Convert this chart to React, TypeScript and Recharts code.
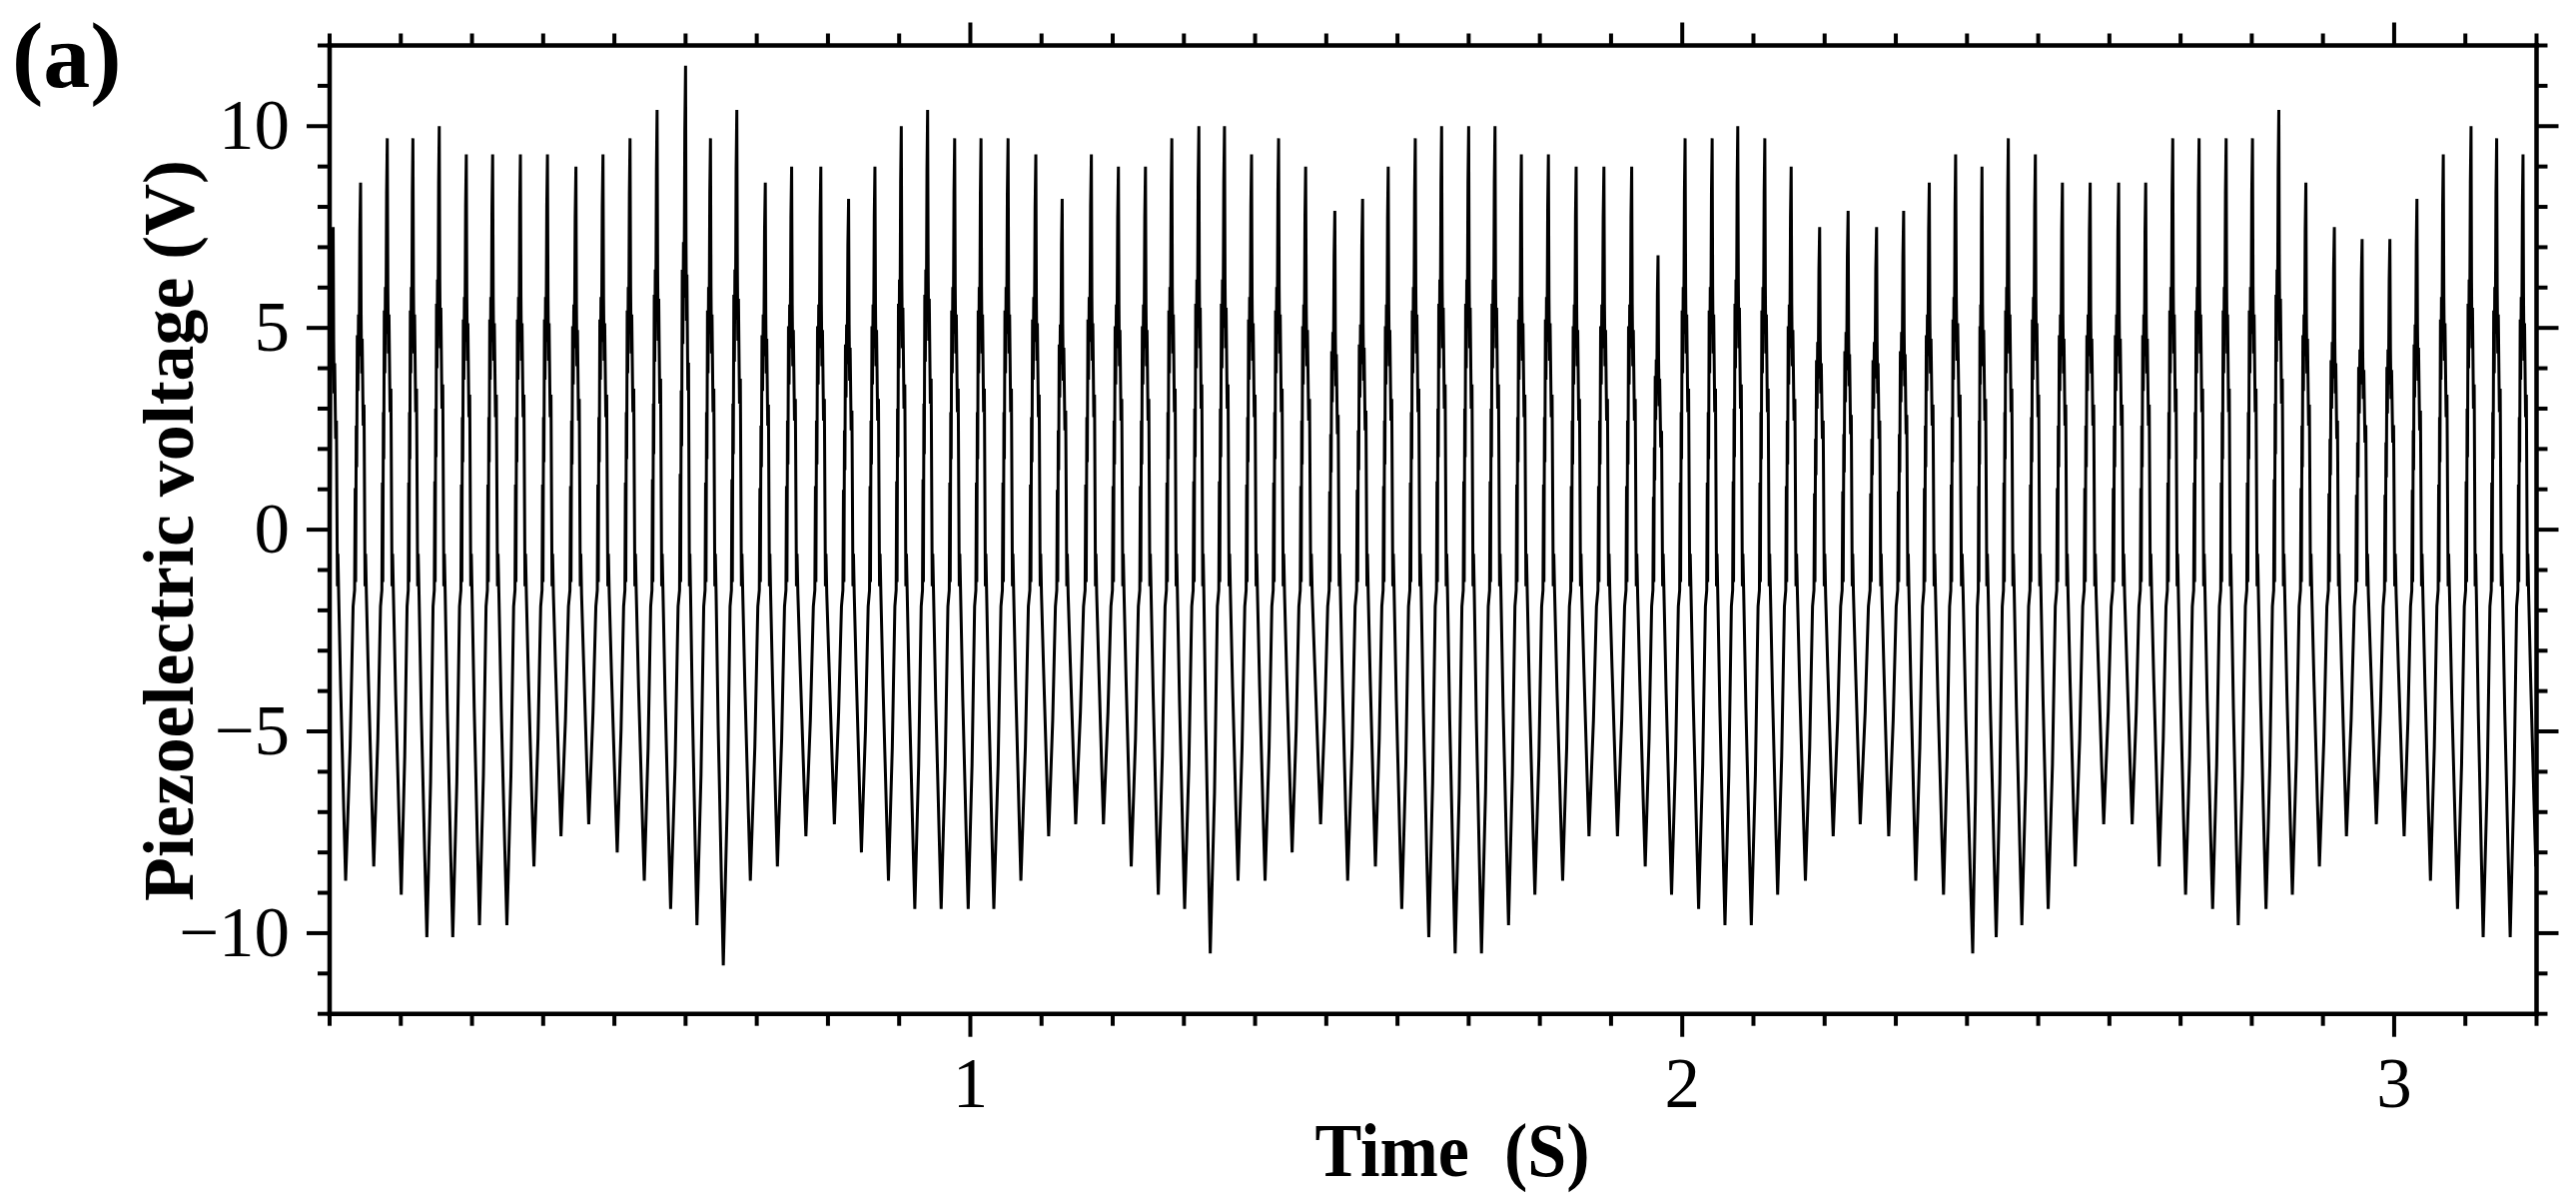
import React from 'react';
import { LineChart, Line, XAxis, YAxis } from 'recharts';

const W = 2579;
const H = 1201;
const FONT = '"Liberation Serif", "Times New Roman", serif';

// axis settings
const xDomain = [0.1, 3.2];
const yDomain = [-12, 12];
const xTicks = Array.from({ length: 32 }, (_, i) => Math.round((0.1 + i * 0.1) * 10) / 10);
const xMajor = [1, 2, 3];
const yTicks = Array.from({ length: 25 }, (_, i) => i - 12);
const yMajor = [-10, -5, 0, 5, 10];

// start of trace
const startT = [0.1, 0.102];
const startV = [-1.8, 4.5];

// spike maxima (time, voltage)
const peakT = [
  0.105, 0.1435, 0.181, 0.217, 0.254, 0.292, 0.329, 0.368, 0.406, 0.446, 0.484, 0.522, 0.56, 0.6,
  0.635, 0.672, 0.712, 0.749, 0.79, 0.829, 0.866, 0.903, 0.94, 0.978, 1.015, 1.053, 1.092, 1.129,
  1.17, 1.208, 1.246, 1.283, 1.321, 1.357, 1.395, 1.433, 1.471, 1.512, 1.551, 1.587, 1.625,
  1.662, 1.7, 1.737, 1.774, 1.812, 1.851, 1.89, 1.929, 1.966, 2.004, 2.042, 2.078, 2.116, 2.153,
  2.193, 2.233, 2.273, 2.311, 2.347, 2.384, 2.421, 2.458, 2.496, 2.534, 2.573, 2.613, 2.651, 2.689,
  2.726, 2.764, 2.801, 2.838, 2.876, 2.916, 2.955, 2.994, 3.032, 3.069, 3.108, 3.144, 3.181,
];
const peakV = [
  7.5, 8.6, 9.7, 9.7, 10.0, 9.3, 9.3, 9.3, 9.3, 9.0, 9.3, 9.7, 10.4, 11.5,
  9.7, 10.4, 8.6, 9.0, 9.0, 8.2, 9.0, 10.0, 10.4, 9.7, 9.7, 9.7, 9.3, 8.2,
  9.3, 9.0, 9.0, 9.7, 10.0, 10.0, 9.3, 9.7, 9.0, 7.9, 8.2, 9.0, 9.7,
  10.0, 10.0, 10.0, 9.3, 9.3, 9.0, 9.0, 9.0, 6.8, 9.7, 9.7, 10.0, 9.7, 9.0,
  7.5, 7.9, 7.5, 7.9, 8.6, 9.3, 9.0, 9.7, 9.3, 8.6, 8.6, 8.6, 8.6, 9.7,
  9.7, 9.7, 9.7, 10.4, 8.6, 7.5, 7.2, 7.2, 8.2, 9.3, 10.0, 9.7, 9.3,
];

// minima (time, voltage)
const troughT = [
  0.1225, 0.162, 0.2006, 0.2366, 0.273, 0.3105, 0.349, 0.387, 0.425, 0.464, 0.504, 0.542, 0.579, 0.616,
  0.653, 0.691, 0.729, 0.769, 0.809, 0.847, 0.885, 0.922, 0.959, 0.997, 1.033, 1.071, 1.11,
  1.148, 1.187, 1.226, 1.264, 1.301, 1.337, 1.376, 1.414, 1.452, 1.492, 1.53, 1.569, 1.606, 1.644,
  1.681, 1.718, 1.756, 1.793, 1.832, 1.869, 1.909, 1.948, 1.985, 2.023, 2.06, 2.097, 2.134, 2.173,
  2.212, 2.25, 2.29, 2.328, 2.367, 2.408, 2.441, 2.477, 2.514, 2.552, 2.592, 2.632, 2.67,
  2.707, 2.745, 2.781, 2.82, 2.857, 2.895, 2.933, 2.975, 3.014, 3.051, 3.089, 3.125, 3.163, 3.199,
];
const troughV = [
  -8.7, -8.35, -9.05, -10.1, -10.1, -9.8, -9.8, -8.35, -7.6, -7.3, -8.0, -8.7, -9.4, -9.8,
  -10.8, -8.7, -8.35, -7.6, -7.3, -8.0, -8.7, -9.4, -9.4, -9.4, -9.4, -8.7, -7.6,
  -7.3, -7.3, -8.35, -9.05, -9.4, -10.5, -8.7, -8.7, -8.0, -7.3, -8.7, -8.35, -9.4, -10.1,
  -10.5, -10.5, -9.8, -9.05, -8.7, -7.6, -7.6, -8.35, -9.05, -9.4, -9.8, -9.8, -9.05, -8.7,
  -7.6, -7.3, -7.6, -8.7, -9.05, -10.5, -10.1, -9.8, -9.4, -8.35, -7.3, -7.3, -8.35,
  -9.05, -9.4, -9.8, -9.4, -9.05, -8.35, -7.6, -7.3, -7.6, -8.7, -9.4, -10.1, -10.1, -8.35,
];

// typical cycle shape: [fraction of interval, share of trough (T) / peak (P) or level (L)]
const fallShape: [number, string, number][] = [
  [0.04, 'P', 0.62], [0.08, 'P', 0.45], [0.12, 'P', 0.55], [0.2, 'P', 0.3], [0.26, 'P', 0.36],
  [0.34, 'L', -1.4], [0.38, 'L', -0.6], [0.44, 'L', -1.6], [0.6, 'T', 0.45], [0.85, 'T', 0.8],
];
const riseShape: [number, string, number][] = [
  [0.3, 'T', 0.62], [0.5, 'L', -1.9], [0.6, 'L', -1.5], [0.64, 'P', 0.12], [0.67, 'L', -1.3],
  [0.71, 'P', 0.3], [0.74, 'P', 0.18], [0.78, 'P', 0.56], [0.82, 'P', 0.4], [0.86, 'P', 0.62],
  [0.9, 'P', 0.5], [0.95, 'P', 0.86],
];

function shapeValue(kind: string, k: number, pV: number, tV: number) {
  if (kind === 'P') return k * pV;
  if (kind === 'T') return k * tV;
  return k;
}

const data: { t: number; v: number }[] = [];
startT.forEach((t, i) => data.push({ t, v: startV[i] }));
for (let i = 0; i < peakT.length; i++) {
  data.push({ t: peakT[i], v: peakV[i] });
  const d1 = troughT[i] - peakT[i];
  fallShape.forEach(([f, kind, k]) => data.push({ t: peakT[i] + f * d1, v: shapeValue(kind, k, peakV[i], troughV[i]) }));
  data.push({ t: troughT[i], v: troughV[i] });
  if (i + 1 < peakT.length) {
    const d2 = peakT[i + 1] - troughT[i];
    riseShape.forEach(([f, kind, k]) => data.push({ t: troughT[i] + f * d2, v: shapeValue(kind, k, peakV[i + 1], troughV[i]) }));
  }
}

const isMajorX = (v: number) => xMajor.some((m) => Math.abs(m - v) < 1e-6);
const fmt = (v: number) => (v < 0 ? '\u2212' + Math.abs(v) : String(v));

const BottomTick = (props: any) => {
  const { x, y, payload } = props;
  const major = isMajorX(payload.value);
  return (
    <g>
      <line x1={x} x2={x} y1={y} y2={y + (major ? 23 : 12)} stroke="#000" strokeWidth={4} />
      {major && (
        <text x={x} y={y + 93} textAnchor="middle" fontSize={71} fontFamily={FONT} fill="#000">
          {fmt(payload.value)}
        </text>
      )}
    </g>
  );
};
const TopTick = (props: any) => {
  const { x, y, payload } = props;
  const major = isMajorX(payload.value);
  return <line x1={x} x2={x} y1={y} y2={y - (major ? 23 : 12)} stroke="#000" strokeWidth={4} />;
};
const LeftTick = (props: any) => {
  const { x, y, payload } = props;
  const major = yMajor.includes(payload.value);
  return (
    <g>
      <line x1={x} x2={x - (major ? 23 : 12)} y1={y} y2={y} stroke="#000" strokeWidth={4} />
      {major && (
        <text x={x - 40} y={y + 23} textAnchor="end" fontSize={71} fontFamily={FONT} fill="#000">
          {fmt(payload.value)}
        </text>
      )}
    </g>
  );
};
const RightTick = (props: any) => {
  const { x, y, payload } = props;
  const major = yMajor.includes(payload.value);
  return <line x1={x} x2={x + (major ? 22 : 11)} y1={y} y2={y} stroke="#000" strokeWidth={4} />;
};

const axisLine = { stroke: '#000', strokeWidth: 4.5, strokeLinecap: 'square' as const };

export default function App() {
  return (
    <div style={{ position: 'absolute', left: 0, top: 0, width: W, height: H, background: '#fff' }}>
      <LineChart width={W} height={H} data={data} margin={{ top: 0, right: 0, bottom: 0, left: 0 }}>
        <XAxis
          xAxisId="b"
          dataKey="t"
          type="number"
          domain={xDomain}
          ticks={xTicks}
          interval={0}
          allowDataOverflow
          orientation="bottom"
          height={186.3}
          tickSize={0}
          tickMargin={0}
          tickLine={false}
          axisLine={axisLine}
          tick={BottomTick}
        />
        <XAxis
          xAxisId="t"
          dataKey="t"
          type="number"
          domain={xDomain}
          ticks={xTicks}
          interval={0}
          allowDataOverflow
          orientation="top"
          height={45.5}
          tickSize={0}
          tickMargin={0}
          tickLine={false}
          axisLine={axisLine}
          tick={TopTick}
        />
        <YAxis
          yAxisId="l"
          type="number"
          domain={yDomain}
          ticks={yTicks}
          interval={0}
          allowDataOverflow
          orientation="left"
          width={330}
          tickSize={0}
          tickMargin={0}
          tickLine={false}
          axisLine={axisLine}
          tick={LeftTick}
        />
        <YAxis
          yAxisId="r"
          type="number"
          domain={yDomain}
          ticks={yTicks}
          interval={0}
          allowDataOverflow
          orientation="right"
          width={39.5}
          tickSize={0}
          tickMargin={0}
          tickLine={false}
          axisLine={axisLine}
          tick={RightTick}
        />
        <Line
          xAxisId="t"
          yAxisId="r"
          dataKey="v"
          type="linear"
          stroke="none"
          dot={false}
          activeDot={false}
          isAnimationActive={false}
        />
        <Line
          xAxisId="b"
          yAxisId="l"
          dataKey="v"
          type="linear"
          stroke="#000"
          strokeWidth={3}
          strokeLinejoin="miter"
          dot={false}
          activeDot={false}
          isAnimationActive={false}
        />
      </LineChart>
      <svg width={W} height={H} style={{ position: 'absolute', left: 0, top: 0, pointerEvents: 'none' }}>
        <text x={12} y={87} fontSize={94} fontWeight="bold" fontFamily={FONT} fill="#000">
          (a)
        </text>
        <text
          x={1454}
          y={1177}
          textAnchor="middle"
          fontSize={76}
          fontWeight="bold"
          fontFamily={FONT}
          fill="#000"
          textLength={275}
          lengthAdjust="spacingAndGlyphs"
          style={{ whiteSpace: 'pre' }}
        >
          {'Time  (S)'}
        </text>
        <text
          transform="translate(193,531) rotate(-90)"
          textAnchor="middle"
          fontSize={72}
          fontWeight="bold"
          fontFamily={FONT}
          fill="#000"
          textLength={742}
          lengthAdjust="spacingAndGlyphs"
        >
          Piezoelectric voltage (V)
        </text>
      </svg>
    </div>
  );
}
